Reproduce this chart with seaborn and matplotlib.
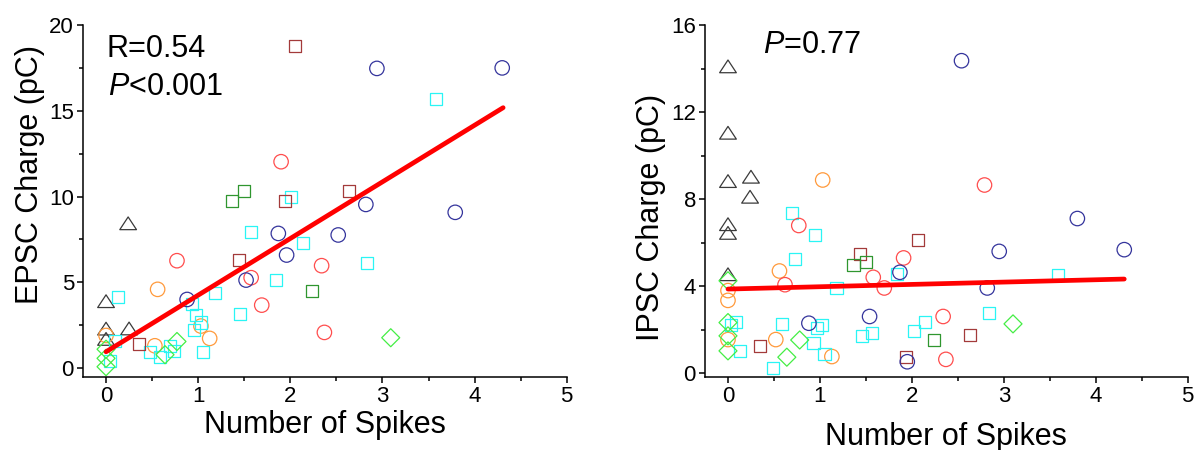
import matplotlib
matplotlib.use("Agg")
import matplotlib.pyplot as plt
from matplotlib.path import Path
from matplotlib.ticker import MultipleLocator
import pandas as pd
import seaborn as sns

sns.set_theme(style="white")
plt.rcParams["font.family"] = ["Liberation Sans", "DejaVu Sans"]
plt.rcParams["mathtext.fontset"] = "custom"
plt.rcParams["mathtext.rm"] = "Liberation Sans"
plt.rcParams["mathtext.it"] = "Liberation Sans:italic"

# ---------------- EPSC charge vs number of spikes ----------------
epsc_black_x = [0.00, 0.00, 0.00, 0.24, 0.25]
epsc_black_y = [3.90, 2.30, 1.70, 8.44, 2.31]
epsc_orange_x = [0.00, 0.53, 0.56, 1.03, 1.125]
epsc_orange_y = [1.90, 1.30, 4.59, 2.45, 1.73]
epsc_cyan_x = [0.13, 0.095, 0.04, 0.48, 0.59, 0.69, 0.74, 0.93, 0.95, 0.975,
               1.03, 1.05, 1.18, 1.45, 1.57, 1.84, 2.01, 2.14, 2.83, 3.58]
epsc_cyan_y = [4.12, 1.60, 0.40, 0.95, 0.62, 1.28, 0.99, 3.73, 2.22, 3.09,
               2.66, 0.95, 4.39, 3.13, 7.95, 5.13, 9.95, 7.27, 6.14, 15.70]
epsc_lime_x = [0.00, 0.00, 0.00, 0.64, 0.77, 3.09]
epsc_lime_y = [1.10, 0.57, 0.08, 0.78, 1.55, 1.77]
epsc_brown_x = [0.36, 1.44, 1.94, 2.64, 2.05]
epsc_brown_y = [1.40, 6.30, 9.76, 10.30, 18.80]
epsc_red_x = [0.77, 1.575, 1.69, 1.90, 2.34, 2.37]
epsc_red_y = [6.26, 5.27, 3.67, 12.03, 5.97, 2.08]
epsc_navy_x = [0.88, 1.52, 1.87, 1.96, 2.52, 2.82, 2.94, 3.79, 4.30]
epsc_navy_y = [4.00, 5.13, 7.85, 6.59, 7.76, 9.54, 17.47, 9.08, 17.50]
epsc_green_x = [1.37, 1.50, 2.24]
epsc_green_y = [9.76, 10.30, 4.49]
epsc_fit_x = [0.00, 4.31]
epsc_fit_y = [0.95, 15.18]

# ---------------- IPSC charge vs number of spikes ----------------
ipsc_black_x = [0.00, 0.00, 0.00, 0.00, 0.00, 0.00, 0.25, 0.24]
ipsc_black_y = [14.10, 11.05, 8.83, 6.85, 6.45, 4.55, 9.03, 8.11]
ipsc_orange_x = [0.00, 0.00, 0.00, 0.52, 0.56, 1.03, 1.13]
ipsc_orange_y = [3.80, 3.35, 1.55, 1.55, 4.70, 8.88, 0.77]
ipsc_cyan_x = [0.03, 0.09, 0.13, 0.485, 0.59, 0.70, 0.73, 0.93, 0.95, 0.97,
               1.02, 1.05, 1.18, 1.46, 1.57, 1.84, 2.02, 2.14, 2.84, 3.59]
ipsc_cyan_y = [2.20, 2.35, 1.03, 0.23, 2.26, 7.37, 5.25, 1.41, 6.37, 2.10,
               2.23, 0.89, 3.92, 1.72, 1.84, 4.56, 1.95, 2.35, 2.76, 4.53]
ipsc_lime_x = [0.00, 0.00, 0.00, 0.00, 0.64, 0.78, 3.10]
ipsc_lime_y = [4.25, 2.33, 1.72, 1.03, 0.74, 1.53, 2.27]
ipsc_brown_x = [0.35, 1.44, 1.94, 2.065, 2.63]
ipsc_brown_y = [1.26, 5.50, 0.74, 6.14, 1.76]
ipsc_red_x = [0.62, 0.77, 1.58, 1.70, 1.91, 2.34, 2.37, 2.79]
ipsc_red_y = [4.07, 6.79, 4.41, 3.92, 5.30, 2.61, 0.64, 8.65]
ipsc_navy_x = [0.88, 1.54, 1.87, 1.95, 2.54, 2.82, 2.95, 3.80, 4.31]
ipsc_navy_y = [2.30, 2.61, 4.64, 0.53, 14.36, 3.92, 5.60, 7.11, 5.68]
ipsc_green_x = [1.365, 1.50, 2.24]
ipsc_green_y = [4.99, 5.10, 1.53]
ipsc_fit_x = [0.00, 4.31]
ipsc_fit_y = [3.87, 4.33]

groups = ["black", "orange", "cyan", "lime", "brown", "red", "navy", "green"]

epsc_sets = {
    "black": (epsc_black_x, epsc_black_y), "orange": (epsc_orange_x, epsc_orange_y),
    "cyan": (epsc_cyan_x, epsc_cyan_y), "lime": (epsc_lime_x, epsc_lime_y),
    "brown": (epsc_brown_x, epsc_brown_y), "red": (epsc_red_x, epsc_red_y),
    "navy": (epsc_navy_x, epsc_navy_y), "green": (epsc_green_x, epsc_green_y),
}
ipsc_sets = {
    "black": (ipsc_black_x, ipsc_black_y), "orange": (ipsc_orange_x, ipsc_orange_y),
    "cyan": (ipsc_cyan_x, ipsc_cyan_y), "lime": (ipsc_lime_x, ipsc_lime_y),
    "brown": (ipsc_brown_x, ipsc_brown_y), "red": (ipsc_red_x, ipsc_red_y),
    "navy": (ipsc_navy_x, ipsc_navy_y), "green": (ipsc_green_x, ipsc_green_y),
}


def frame(sets):
    rows = []
    for g in groups:
        xs, ys = sets[g]
        rows += [{"spikes": a, "charge": b, "cell": g} for a, b in zip(xs, ys)]
    return pd.DataFrame(rows)


# Wide, flat open triangle
tri = Path([(-1, -0.76), (1, -0.76), (0, 0.76), (-1, -0.76)],
           [Path.MOVETO, Path.LINETO, Path.LINETO, Path.CLOSEPOLY])

style = {
    "black": ("#3a3a3a", tri, 145),
    "orange": ("#ff9a3c", "o", 108),
    "cyan": ("#2af5f5", "s", 76),
    "lime": ("#44ee44", "D", 84),
    "brown": ("#a33a3a", "s", 76),
    "red": ("#ff4d4d", "o", 108),
    "navy": ("#34349c", "o", 108),
    "green": ("#2f962f", "s", 76),
}

fig = plt.figure(figsize=(11.98, 4.5), dpi=100)
ax1 = fig.add_axes([0.06928, 0.16222, 0.40376, 0.78222])
ax2 = fig.add_axes([0.58848, 0.16222, 0.40292, 0.78222])


def draw(ax, sets, fit_x, fit_y, ylim, ymajor, ylabel):
    df = frame(sets)
    for g in groups:
        color, marker, size = style[g]
        sub = df[df["cell"] == g]
        sns.scatterplot(data=sub, x="spikes", y="charge", ax=ax, marker=marker,
                        s=size, facecolor="none", edgecolor=color,
                        linewidth=0.9, legend=False, zorder=2)
    sns.lineplot(x=fit_x, y=fit_y, ax=ax, color="#ff0000", linewidth=3.4,
                 solid_capstyle="round", zorder=3)
    ax.set_xlim(-0.25, 5.0)
    ax.set_ylim(*ylim)
    ax.xaxis.set_major_locator(MultipleLocator(1))
    ax.xaxis.set_minor_locator(MultipleLocator(0.5))
    ax.yaxis.set_major_locator(MultipleLocator(ymajor))
    ax.yaxis.set_minor_locator(MultipleLocator(ymajor / 2))
    for side in ("top", "right"):
        ax.spines[side].set_visible(False)
    for side in ("left", "bottom"):
        ax.spines[side].set_color("black")
        ax.spines[side].set_linewidth(1.1)
    ax.tick_params(which="both", direction="out", color="black", width=1.1,
                   left=True, bottom=True)
    ax.tick_params(which="major", length=4.5, labelsize=16, pad=2,
                   labelcolor="black")
    ax.tick_params(which="minor", length=2.6)
    ax.set_xlabel("Number of Spikes", fontsize=22, color="black")
    ax.set_ylabel(ylabel, fontsize=22, color="black")
    ax.grid(False)


draw(ax1, epsc_sets, epsc_fit_x, epsc_fit_y, (-0.52, 20), 5, "EPSC Charge (pC)")
draw(ax2, ipsc_sets, ipsc_fit_x, ipsc_fit_y, (-0.17, 16), 4, "IPSC Charge (pC)")

ax1.yaxis.label.set_va("center")
ax1.xaxis.label.set_va("center")
ax2.yaxis.label.set_va("center")
ax2.xaxis.label.set_va("center")
ax1.yaxis.set_label_coords(-0.11, 0.574)
ax1.xaxis.set_label_coords(0.5, -0.136)
ax2.yaxis.set_label_coords(-0.112, 0.452)
ax2.xaxis.set_label_coords(0.5, -0.17)

ax1.text(0.0496, 0.91, "R=0.54", transform=ax1.transAxes, fontsize=22,
         ha="left", va="baseline", color="black")
ax1.text(0.0516, 0.801, "$P$<0.001", transform=ax1.transAxes, fontsize=22,
         ha="left", va="baseline", color="black")
ax2.text(0.1195, 0.9196, "$P$=0.77", transform=ax2.transAxes, fontsize=22,
         ha="left", va="baseline", color="black")

fig.savefig("out.png", dpi=100)
